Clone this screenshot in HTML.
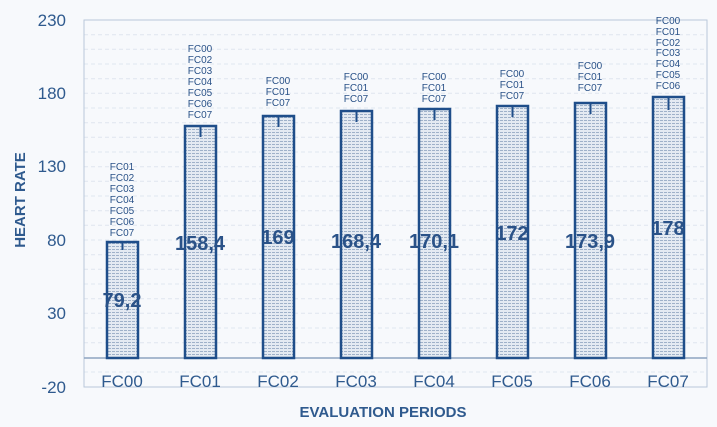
<!DOCTYPE html>
<html><head><style>
html,body{margin:0;padding:0;background:#f7f9fc;}
svg{display:block;font-family:"Liberation Sans",sans-serif;}
</style></head><body>
<svg width="717" height="427" viewBox="0 0 717 427" xmlns="http://www.w3.org/2000/svg">
<defs>
<pattern id="h" width="4" height="3" patternUnits="userSpaceOnUse">
<rect width="4" height="3" fill="#e4eaf2"/>
<rect width="3" height="1" fill="#9fb1c9"/>
</pattern>
</defs>
<rect width="717" height="427" fill="#f7f9fc"/>
<g stroke="#dfe6ef" stroke-width="1" stroke-dasharray="4,3">
<line x1="84" x2="707" y1="34.7" y2="34.7"/><line x1="84" x2="707" y1="49.3" y2="49.3"/><line x1="84" x2="707" y1="64" y2="64"/><line x1="84" x2="707" y1="78.7" y2="78.7"/><line x1="84" x2="707" y1="93.3" y2="93.3"/>
<line x1="84" x2="707" y1="108" y2="108"/><line x1="84" x2="707" y1="122.7" y2="122.7"/><line x1="84" x2="707" y1="137.3" y2="137.3"/><line x1="84" x2="707" y1="152" y2="152"/><line x1="84" x2="707" y1="166.7" y2="166.7"/>
<line x1="84" x2="707" y1="181.3" y2="181.3"/><line x1="84" x2="707" y1="196" y2="196"/><line x1="84" x2="707" y1="210.7" y2="210.7"/><line x1="84" x2="707" y1="225.3" y2="225.3"/><line x1="84" x2="707" y1="240" y2="240"/>
<line x1="84" x2="707" y1="254.7" y2="254.7"/><line x1="84" x2="707" y1="269.3" y2="269.3"/><line x1="84" x2="707" y1="284" y2="284"/><line x1="84" x2="707" y1="298.7" y2="298.7"/><line x1="84" x2="707" y1="313.3" y2="313.3"/>
<line x1="84" x2="707" y1="328" y2="328"/><line x1="84" x2="707" y1="342.7" y2="342.7"/><line x1="84" x2="707" y1="372" y2="372"/>
</g>
<rect x="84" y="20" width="623" height="367" fill="none" stroke="#b9c8da" stroke-width="1"/>
<line x1="84" x2="707" y1="358" y2="358" stroke="#8da4c0" stroke-width="1.5"/>
<g fill="#2f5a8e" font-size="17" text-anchor="end">
<text x="66" y="26">230</text><text x="66" y="99">180</text><text x="66" y="172">130</text><text x="66" y="246">80</text><text x="66" y="319">30</text><text x="66" y="393">-20</text>
</g>
<text transform="translate(25,200) rotate(-90)" fill="#2f5a8e" font-size="15" font-weight="bold" text-anchor="middle">HEART RATE</text>
<text x="383" y="417" fill="#2f5a8e" font-size="15" font-weight="bold" text-anchor="middle">EVALUATION PERIODS</text>
<g fill="url(#h)" stroke="#1f4e8a" stroke-width="2.5">
<rect x="107" y="242" width="31" height="116"/>
<rect x="185" y="126" width="31" height="232"/>
<rect x="263" y="116" width="31" height="242"/>
<rect x="341" y="111" width="31" height="247"/>
<rect x="419" y="109" width="31" height="249"/>
<rect x="497" y="106" width="31" height="252"/>
<rect x="575" y="103" width="31" height="255"/>
<rect x="653" y="97" width="31" height="261"/>
</g>
<g stroke="#1f4e8a" stroke-width="2">
<line x1="122.5" x2="122.5" y1="242" y2="250"/><line x1="200.5" x2="200.5" y1="126" y2="137"/><line x1="278.5" x2="278.5" y1="116" y2="127"/><line x1="356.5" x2="356.5" y1="111" y2="122"/><line x1="434.5" x2="434.5" y1="109" y2="120"/><line x1="512.5" x2="512.5" y1="106" y2="117"/><line x1="590.5" x2="590.5" y1="103" y2="114"/><line x1="668.5" x2="668.5" y1="97" y2="110"/>
</g>
<g fill="#2f5a8e" font-size="17" text-anchor="middle">
<text x="122" y="387">FC00</text><text x="200" y="387">FC01</text><text x="278" y="387">FC02</text><text x="356" y="387">FC03</text><text x="434" y="387">FC04</text><text x="512" y="387">FC05</text><text x="590" y="387">FC06</text><text x="668" y="387">FC07</text>
</g>
<g fill="#2a5288" font-size="20" font-weight="bold" text-anchor="middle">
<text x="122" y="307">79,2</text><text x="200" y="250">158,4</text><text x="278" y="244">169</text><text x="356" y="248">168,4</text><text x="434" y="248">170,1</text><text x="512" y="240">172</text><text x="590" y="248">173,9</text><text x="668" y="235">178</text>
</g>
<g fill="#2a5288" font-size="10" text-anchor="middle">
<text x="122" y="170">FC01</text><text x="122" y="181">FC02</text><text x="122" y="192">FC03</text><text x="122" y="203">FC04</text><text x="122" y="214">FC05</text><text x="122" y="225">FC06</text><text x="122" y="236">FC07</text>
<text x="200" y="52">FC00</text><text x="200" y="63">FC02</text><text x="200" y="74">FC03</text><text x="200" y="85">FC04</text><text x="200" y="96">FC05</text><text x="200" y="107">FC06</text><text x="200" y="118">FC07</text>
<text x="278" y="84">FC00</text><text x="278" y="95">FC01</text><text x="278" y="106">FC07</text>
<text x="356" y="80">FC00</text><text x="356" y="91">FC01</text><text x="356" y="102">FC07</text>
<text x="434" y="80">FC00</text><text x="434" y="91">FC01</text><text x="434" y="102">FC07</text>
<text x="512" y="77">FC00</text><text x="512" y="88">FC01</text><text x="512" y="99">FC07</text>
<text x="590" y="69">FC00</text><text x="590" y="80">FC01</text><text x="590" y="91">FC07</text>
<text x="668" y="24">FC00</text><text x="668" y="35">FC01</text><text x="668" y="46">FC02</text><text x="668" y="56">FC03</text><text x="668" y="67">FC04</text><text x="668" y="78">FC05</text><text x="668" y="89">FC06</text>
</g>
</svg>
</body></html>
